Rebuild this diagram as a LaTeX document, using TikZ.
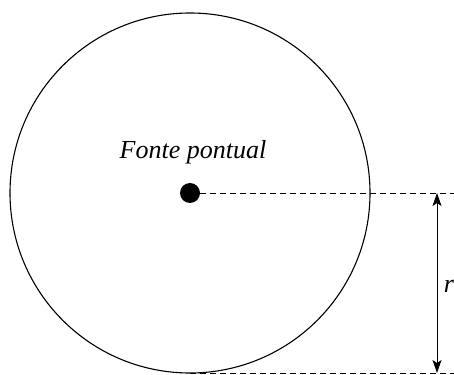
\documentclass[tikz,border=0pt]{standalone}
\usepackage{fontspec}
\setmainfont{Liberation Serif}
\usetikzlibrary{arrows.meta,positioning}
\begin{document}
\begin{tikzpicture}[x=1pt,y=-1pt,
  dsh/.style={dash pattern=on 6pt off 4pt,line width=0.8pt},
  ar/.style={{Stealth[length=13pt,width=9pt,inset=3pt]}-{Stealth[length=13pt,width=9pt,inset=3pt]},line width=1pt},
  lbl/.style={font=\fontsize{26}{30}\selectfont\itshape,inner sep=0pt},
]
  \useasboundingbox (0,0) rectangle (454,374);
  \draw[line width=1.1pt] (190,193) circle[radius=180];
  \node[circle,fill=black,minimum size=20pt,inner sep=0pt](src) at (190,193){};
  \node[lbl,anchor=base](name) at (193,158){Fonte pontual};
  \coordinate (t) at (454,193);
  \coordinate (b0) at (190,373);
  \coordinate (b) at (454,373);
  \draw[dsh](src)--(t);
  \draw[dsh](b0)--(b);
  \coordinate (at) at (437,193);
  \coordinate (ab) at (437,373);
  \draw[ar](at)--(ab);
  \node[lbl,anchor=base](r) at (449,292){r};
\end{tikzpicture}
\end{document}
